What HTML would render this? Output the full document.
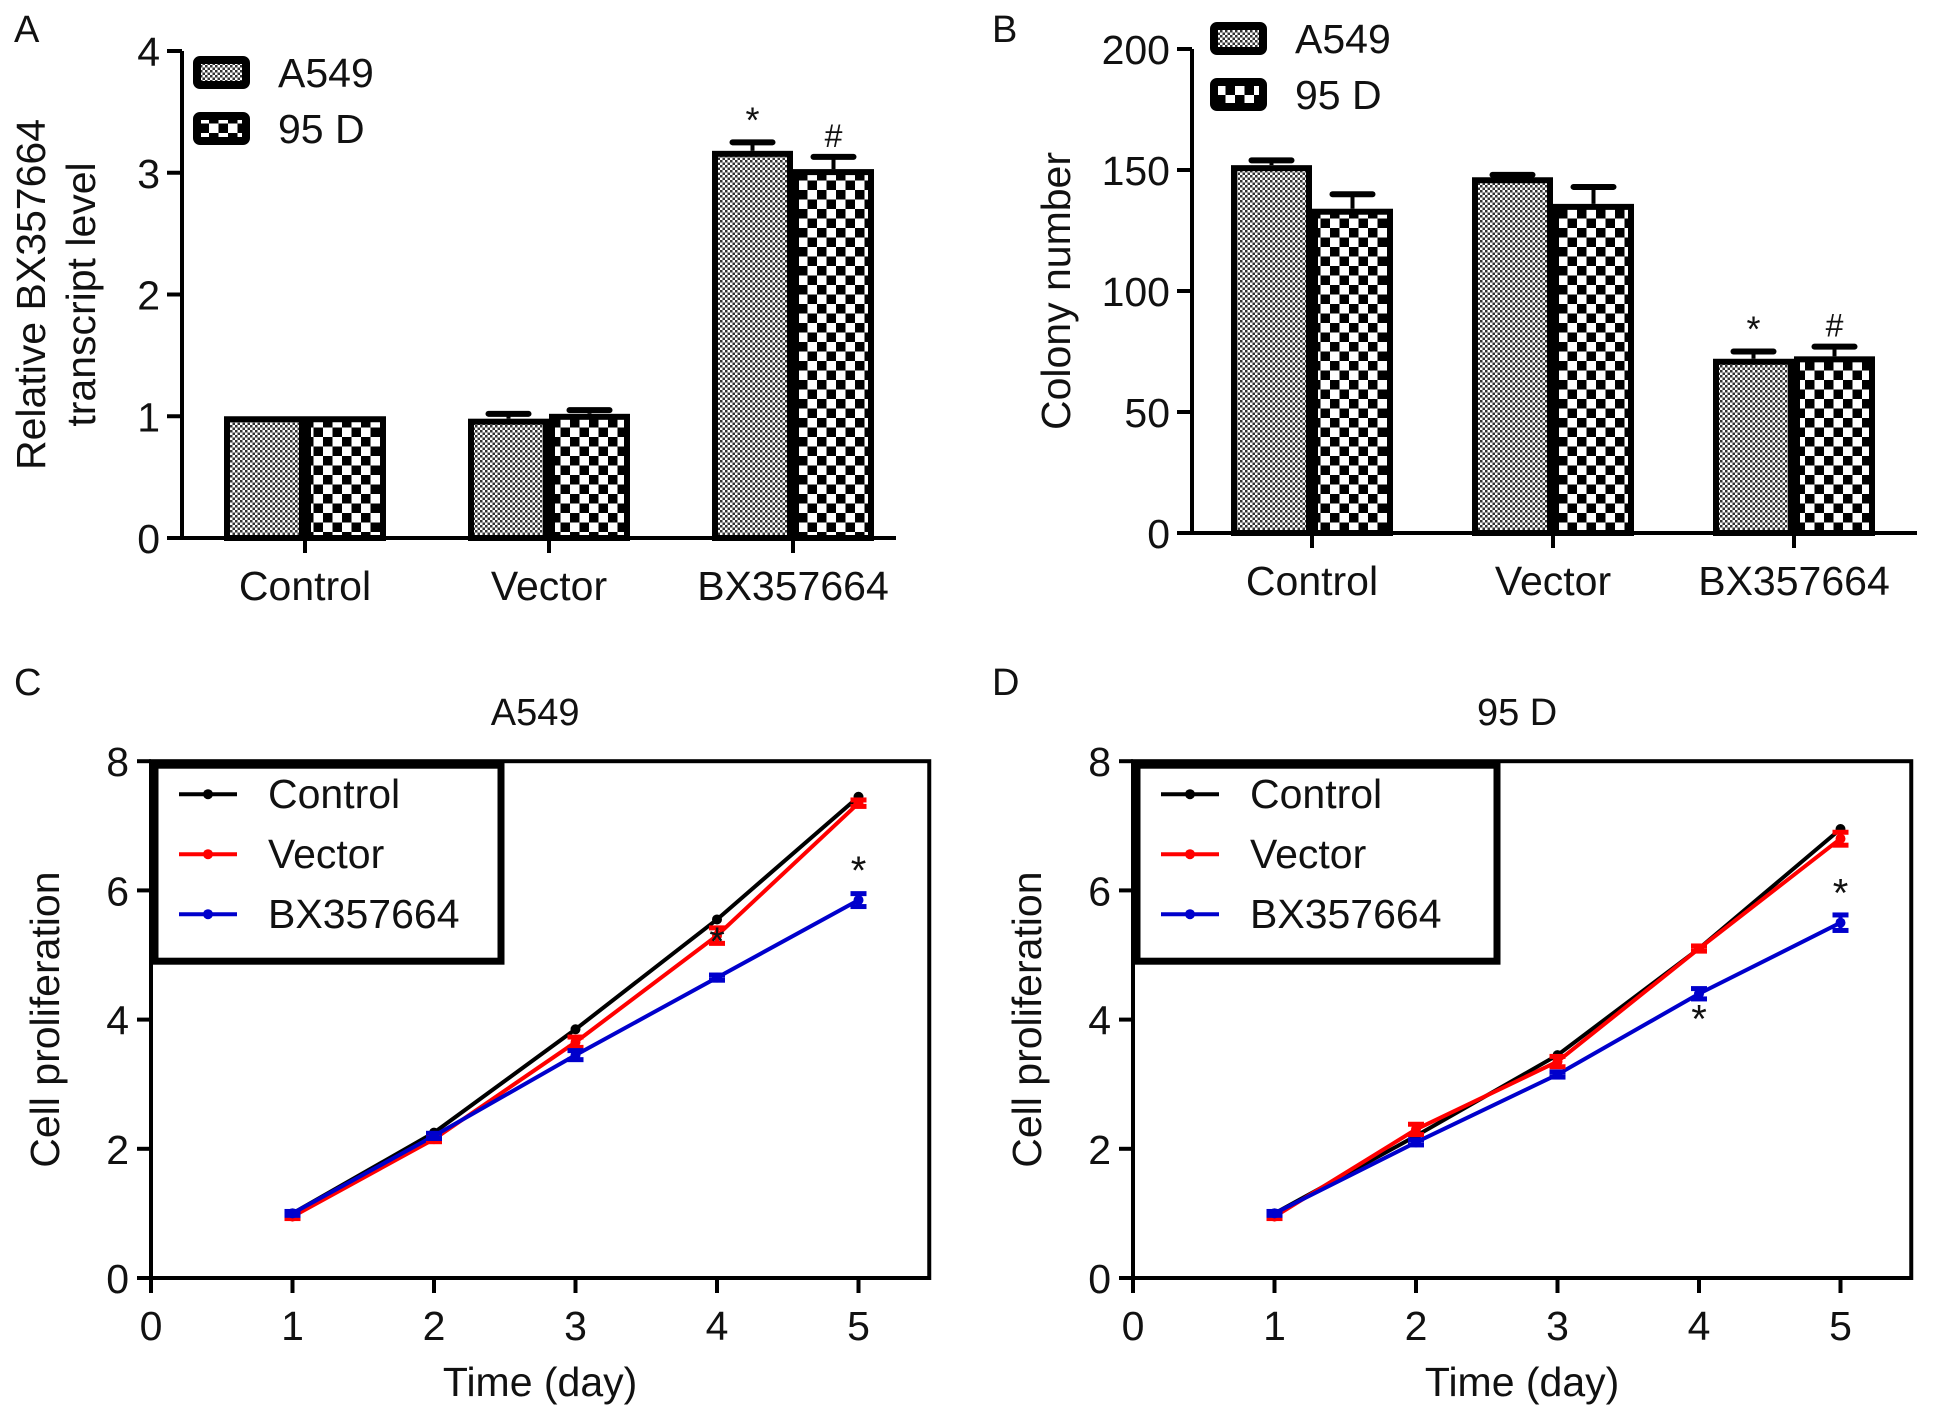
<!DOCTYPE html>
<html><head><meta charset="utf-8"><style>
html,body{margin:0;padding:0;background:#fff;}
svg{display:block;font-family:"Liberation Sans",Arial,sans-serif;}
</style></head><body>
<svg id="fig" width="1942" height="1420" viewBox="0 0 1942 1420" xmlns="http://www.w3.org/2000/svg">
<defs>
<pattern id="fine" patternUnits="userSpaceOnUse" width="5" height="5">
<rect width="5" height="5" fill="#fff"/><rect width="2.5" height="2.5" fill="#333"/><rect x="2.5" y="2.5" width="2.5" height="2.5" fill="#333"/>
</pattern>
<pattern id="coarse" patternUnits="userSpaceOnUse" width="19" height="19">
<rect width="19" height="19" fill="#fff"/><rect width="9.5" height="9.5" fill="#000"/><rect x="9.5" y="9.5" width="9.5" height="9.5" fill="#000"/>
</pattern>
</defs>
<g id="root"></g>
</svg>
<script>
// Panel A data
const catsA = ["Control","Vector","BX357664"];
const a549A = [1.0, 0.98, 3.18];
const a549AErr = [0.0, 0.04, 0.07];
const d95A = [1.0, 1.02, 3.03];
const d95AErr = [0.0, 0.03, 0.1];
const ticksA = [0,1,2,3,4];
// Panel B data
const catsB = ["Control","Vector","BX357664"];
const a549B = [152, 147, 72];
const a549BErr = [2, 1, 3];
const d95B = [134, 136, 73];
const d95BErr = [6, 7, 4];
const ticksB = [0,50,100,150,200];
// Panel C data (A549)
const days = [1,2,3,4,5];
const ctrlC = [1.0, 2.25, 3.85, 5.55, 7.45];
const vecC = [0.95, 2.15, 3.65, 5.3, 7.35];
const bxC = [1.0, 2.2, 3.45, 4.65, 5.85];
const bxCErr = [0.03, 0.04, 0.07, 0.04, 0.1];
const vecCErr = [0.03, 0.04, 0.08, 0.12, 0.05];
// Panel D data (95 D)
const ctrlD = [1.0, 2.2, 3.45, 5.1, 6.95];
const vecD = [0.95, 2.3, 3.35, 5.1, 6.8];
const bxD = [1.0, 2.1, 3.15, 4.4, 5.5];
const bxDErr = [0.03, 0.04, 0.04, 0.08, 0.12];
const vecDErr = [0.03, 0.08, 0.08, 0.04, 0.1];
const xTicksLine = [0,1,2,3,4,5];
const yTicksLine = [0,2,4,6,8];

const FS=41;
const NS="http://www.w3.org/2000/svg";
const root=document.getElementById('root');
function mk(tag,attrs,parent){const e=document.createElementNS(NS,tag);for(const k in attrs)e.setAttribute(k,attrs[k]);(parent||root).appendChild(e);return e;}
function txt(s,x,y,size,anchor,parent,extra){const t=mk('text',Object.assign({x:x,y:y,'font-size':size,'text-anchor':anchor||'start',fill:'#111'},extra||{}),parent);t.textContent=s;return t;}

function barPanel(o){
  const g=mk('g',{});
  
  
  const yS=v=>o.y0-(v-o.ymin)/(o.ymax-o.ymin)*(o.y0-o.ytop);
  const ax=mk('line',{x1:o.ax,y1:yS(o.ymax),x2:o.ax,y2:o.y0,stroke:'#000','stroke-width':4},g);
  
  o.ticks.forEach(t=>{
    mk('line',{x1:o.ax-15,x2:o.ax,y1:yS(t),y2:yS(t),stroke:'#000','stroke-width':4},g);
    const l=txt(String(t),o.ax-22,yS(t)+15,FS,'end',g);
    
  });
  const xa=mk('line',{x1:o.ax-15,x2:o.xend,y1:o.y0,y2:o.y0,stroke:'#000','stroke-width':4},g);
  
  const bw=81;
  o.cats.forEach((c,i)=>{
    const cx=o.c0+i*o.step;
    [[o.s1,o.e1,'url(#fine)',cx-bw],[o.s2,o.e2,'url(#coarse)',cx]].forEach((s,j)=>{
      const v=s[0][i],e=s[1][i],x=s[3];
      const top=yS(v);
      if(e>0){
        mk('line',{x1:x+bw/2,x2:x+bw/2,y1:yS(v+e),y2:top,stroke:'#000','stroke-width':4},g);
        mk('line',{x1:x+bw/2-20,x2:x+bw/2+20,y1:yS(v+e),y2:yS(v+e),stroke:'#000','stroke-width':6,'stroke-linecap':'round'},g);
      }
      const r=mk('rect',{x:x+3,y:top+3,width:bw-6,height:o.y0-top-3,fill:s[2],stroke:'#000','stroke-width':6},g);
      
      
      if(i===2){const m=txt(j?'#':'*',x+bw/2,yS(v+e)-10,j?32:36,'middle',g);}
    });
    mk('line',{x1:cx,x2:cx,y1:o.y0,y2:o.y0+15,stroke:'#000','stroke-width':4},g);
    const l=txt(c,cx,o.y0+62,FS,'middle',g);
    
  });
  [['A549','url(#fine)'],['95 D','url(#coarse)']].forEach((L,k)=>{
    const y=o.legY+k*56;
    const lg=mk('g',{},g);
    
    mk('rect',{x:o.legX+4,y:y+4,width:49,height:25,rx:3,fill:L[1],stroke:'#000','stroke-width':8},lg);
    txt(L[0],o.legX+85,y+31,FS,'start',lg);
  });
  const yt=mk('text',{x:0,y:0,'font-size':FS,'text-anchor':'middle',fill:'#111',transform:`translate(${o.titleX},${(o.y0+yS(o.ymax))/2}) rotate(-90)`},g);
  
  o.title.forEach((s,i)=>{const ts=mk('tspan',{x:0,dy:i?50:0},yt);ts.textContent=s;});
  if(o.title.length>1)yt.setAttribute('y',-25);
}

barPanel({name:'panel-a',ax:182,y0:538,ytop:51,ymin:0,ymax:4,ticks:ticksA,xend:896,cats:catsA,c0:305,step:244,
 s1:a549A,e1:a549AErr,s2:d95A,e2:d95AErr,legX:193,legY:56,titleX:70,title:['Relative BX357664','transcript level']});
barPanel({name:'panel-b',ax:1192,y0:533,ytop:49,ymin:0,ymax:200,ticks:ticksB,xend:1917,cats:catsB,c0:1312,step:241,
 s1:a549B,e1:a549BErr,s2:d95B,e2:d95BErr,legX:1210,legY:22,titleX:1070,title:['Colony number']});

function linePanel(o){
  const g=mk('g',{});
  
  const xS=v=>o.ax+v*141.5, yS=v=>o.y0-v*64.6;
  const right=xS(5.5), top=yS(8);
  const box=mk('rect',{x:o.ax,y:top,width:right-o.ax,height:o.y0-top,fill:'none',stroke:'#000','stroke-width':4},g);
  
  yTicksLine.forEach(t=>{mk('line',{x1:o.ax-14,x2:o.ax,y1:yS(t),y2:yS(t),stroke:'#000','stroke-width':4},g);
    const l=txt(String(t),o.ax-22,yS(t)+15,FS,'end',g);});
  xTicksLine.forEach(t=>{mk('line',{x1:xS(t),x2:xS(t),y1:o.y0,y2:o.y0+15,stroke:'#000','stroke-width':4},g);
    const l=txt(String(t),xS(t),o.y0+62,FS,'middle',g);});
  const series=[[o.ctrl,'#000','control',null],[o.vec,'#f00','vector',o.vecErr],[o.bx,'#00c','bx357664',o.bxErr]];
  series.forEach(s=>{
    const pts=days.map((d,i)=>xS(d)+','+yS(s[0][i])).join(' ');
    const pl=mk('polyline',{points:pts,fill:'none',stroke:s[1],'stroke-width':4},g);
    
    
  });
  series.forEach(s=>{
    days.forEach((d,i)=>{
      const cx=xS(d),cy=yS(s[0][i]);
      if(s[3]){const e=s[3][i];
        mk('line',{x1:cx,x2:cx,y1:yS(s[0][i]+e),y2:yS(s[0][i]-e),stroke:s[1],'stroke-width':4},g);
        mk('line',{x1:cx-8,x2:cx+8,y1:yS(s[0][i]+e),y2:yS(s[0][i]+e),stroke:s[1],'stroke-width':5},g);
        mk('line',{x1:cx-8,x2:cx+8,y1:yS(s[0][i]-e),y2:yS(s[0][i]-e),stroke:s[1],'stroke-width':5},g);}
      const p=mk('circle',{cx:cx,cy:cy,r:5,fill:s[1]},g);
      
      
    });
  });
  o.stars.forEach(st=>{const m=txt('*',xS(st[0]),yS(st[1]),40,'middle',g);});
  const lg=mk('g',{},g);
  mk('rect',{x:o.ax+4,y:top+4,width:o.legW,height:196,fill:'#fff',stroke:'#000','stroke-width':7},lg);
  [['Control','#000'],['Vector','#f00'],['BX357664','#00c']].forEach((L,k)=>{
    const y=top+23+k*60;
    const e=mk('g',{},lg);
    mk('line',{x1:o.ax+28,x2:o.ax+86,y1:y+10,y2:y+10,stroke:L[1],'stroke-width':4},e);
    mk('circle',{cx:o.ax+57,cy:y+10,r:5,fill:L[1]},e);
    txt(L[0],o.ax+117,y+24,FS,'start',e);
  });
  const t=txt(o.title,(o.ax+right)/2-5,top-36,38,'middle',g);
  const xt=txt('Time (day)',(o.ax+right)/2,o.y0+118,FS,'middle',g);
  const yt=mk('text',{x:0,y:0,'font-size':FS,'text-anchor':'middle',fill:'#111',transform:`translate(${o.ax-92},${(top+o.y0)/2}) rotate(-90)`},g);
  yt.textContent='Cell proliferation';
  
}
linePanel({name:'panel-c',ax:151,y0:1278,title:'A549',ctrl:ctrlC,vec:vecC,bx:bxC,vecErr:vecCErr,bxErr:bxCErr,legW:346,stars:[[4,5.0],[5,6.1]]});
linePanel({name:'panel-d',ax:1133,y0:1278,title:'95 D',ctrl:ctrlD,vec:vecD,bx:bxD,vecErr:vecDErr,bxErr:bxDErr,legW:360,stars:[[4,3.8],[5,5.75]]});

[['A',14,42],['B',992,42],['C',14,695],['D',992,695]].forEach(p=>{const l=txt(p[0],p[1],p[2],38,'start');});
</script>
</body></html>
